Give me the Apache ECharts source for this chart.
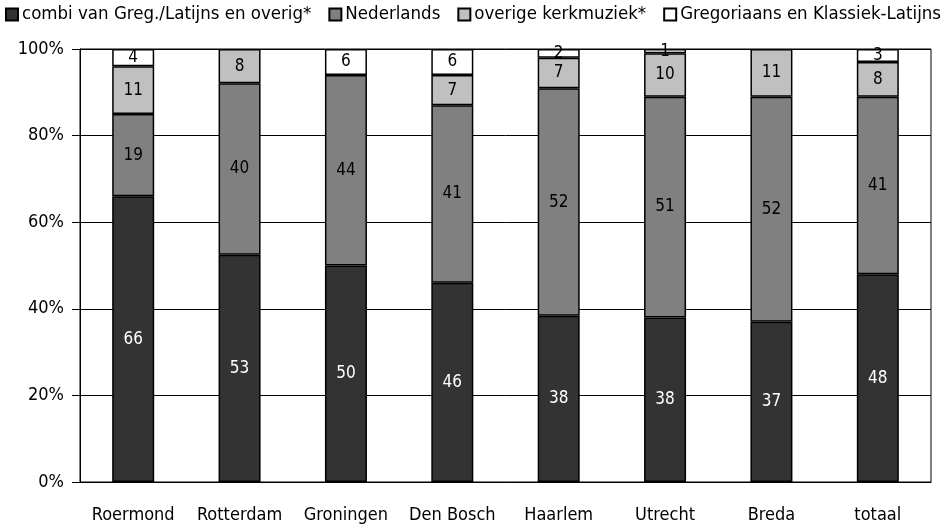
<!DOCTYPE html>
<html>
<head>
<meta charset="utf-8">
<script src="https://cdn.jsdelivr.net/npm/echarts@6/dist/echarts.min.js"></script>
<style>
  html, body { margin: 0; padding: 0; background: #fff; }
  #chart { width: 946px; height: 528px; }
</style>
</head>
<body>
<div id="chart"></div>
<script>
// categorieen en waarden (percentages zoals in de labels)
var categories = ['Roermond', 'Rotterdam', 'Groningen', 'Den Bosch', 'Haarlem', 'Utrecht', 'Breda', 'totaal'];
var combi = [66, 53, 50, 46, 38, 38, 37, 48];
var nederlands = [19, 40, 44, 41, 52, 51, 52, 41];
var overige = [11, 8, null, 7, 7, 10, 11, 8];
var gregoriaans = [4, null, 6, 6, 2, 1, null, 3];
var seriesNames = ['combi van Greg./Latijns en overig*', 'Nederlands', 'overige kerkmuziek*', 'Gregoriaans en Klassiek-Latijns'];
var yTicks = ['0%', '20%', '40%', '60%', '80%', '100%'];

var font = "'DejaVu Sans Condensed', 'Liberation Sans Narrow', sans-serif";
var colors = ['#333333', '#808080', '#c0c0c0', '#ffffff'];
var rows = [combi, nederlands, overige, gregoriaans];

// net als Excel: 100% gestapeld, dus per kolom normaliseren
var totals = categories.map(function (c, i) {
    var s = 0;
    rows.forEach(function (r) { s += r[i] || 0; });
    return s;
});

var series = rows.map(function (row, k) {
    return {
        name: seriesNames[k],
        type: 'bar',
        stack: 'tot',
        barWidth: 42,
        itemStyle: { color: colors[k], borderColor: '#000', borderWidth: 1.5 },
        label: {
            show: true,
            position: 'inside',
            color: k === 0 ? '#fff' : '#000',
            fontFamily: font,
            fontSize: 17,
            formatter: function (p) { return p.data.raw; }
        },
        data: row.map(function (v, i) {
            if (v === null) return null;
            return { value: v / totals[i] * 100, raw: v };
        })
    };
});

var option = {
    animation: false,
    backgroundColor: '#fff',
    textStyle: { fontFamily: font },
    legend: {
        top: 5,
        left: 'center',
        padding: 0,
        itemWidth: 12,
        itemHeight: 12,
        itemGap: 17,
        icon: 'rect',
        textStyle: { fontFamily: font, fontSize: 18.5, color: '#000', padding: [0, 0, 0, -1] },
        data: seriesNames
    },
    grid: {
        left: 80, right: 15, top: 49, bottom: 46,
        show: true, borderColor: '#000', borderWidth: 1
    },
    xAxis: {
        type: 'category',
        data: categories,
        axisLine: { lineStyle: { color: '#000' } },
        axisTick: { show: false },
        axisLabel: { interval: 0, color: '#000', fontFamily: font, fontSize: 18, margin: 24 }
    },
    yAxis: {
        type: 'value',
        min: 0, max: 100, interval: 20,
        axisLine: { show: true, lineStyle: { color: '#000' } },
        axisTick: { show: true, length: 8, lineStyle: { color: '#000' } },
        splitLine: { lineStyle: { color: '#000', width: 1 } },
        axisLabel: {
            color: '#000', fontFamily: font, fontSize: 18, margin: 16,
            formatter: function (v) { return yTicks[v / 20]; }
        }
    },
    series: series
};

var frame = echarts.init(document.getElementById('chart'));
frame.setOption(option);
</script>
</body>
</html>
